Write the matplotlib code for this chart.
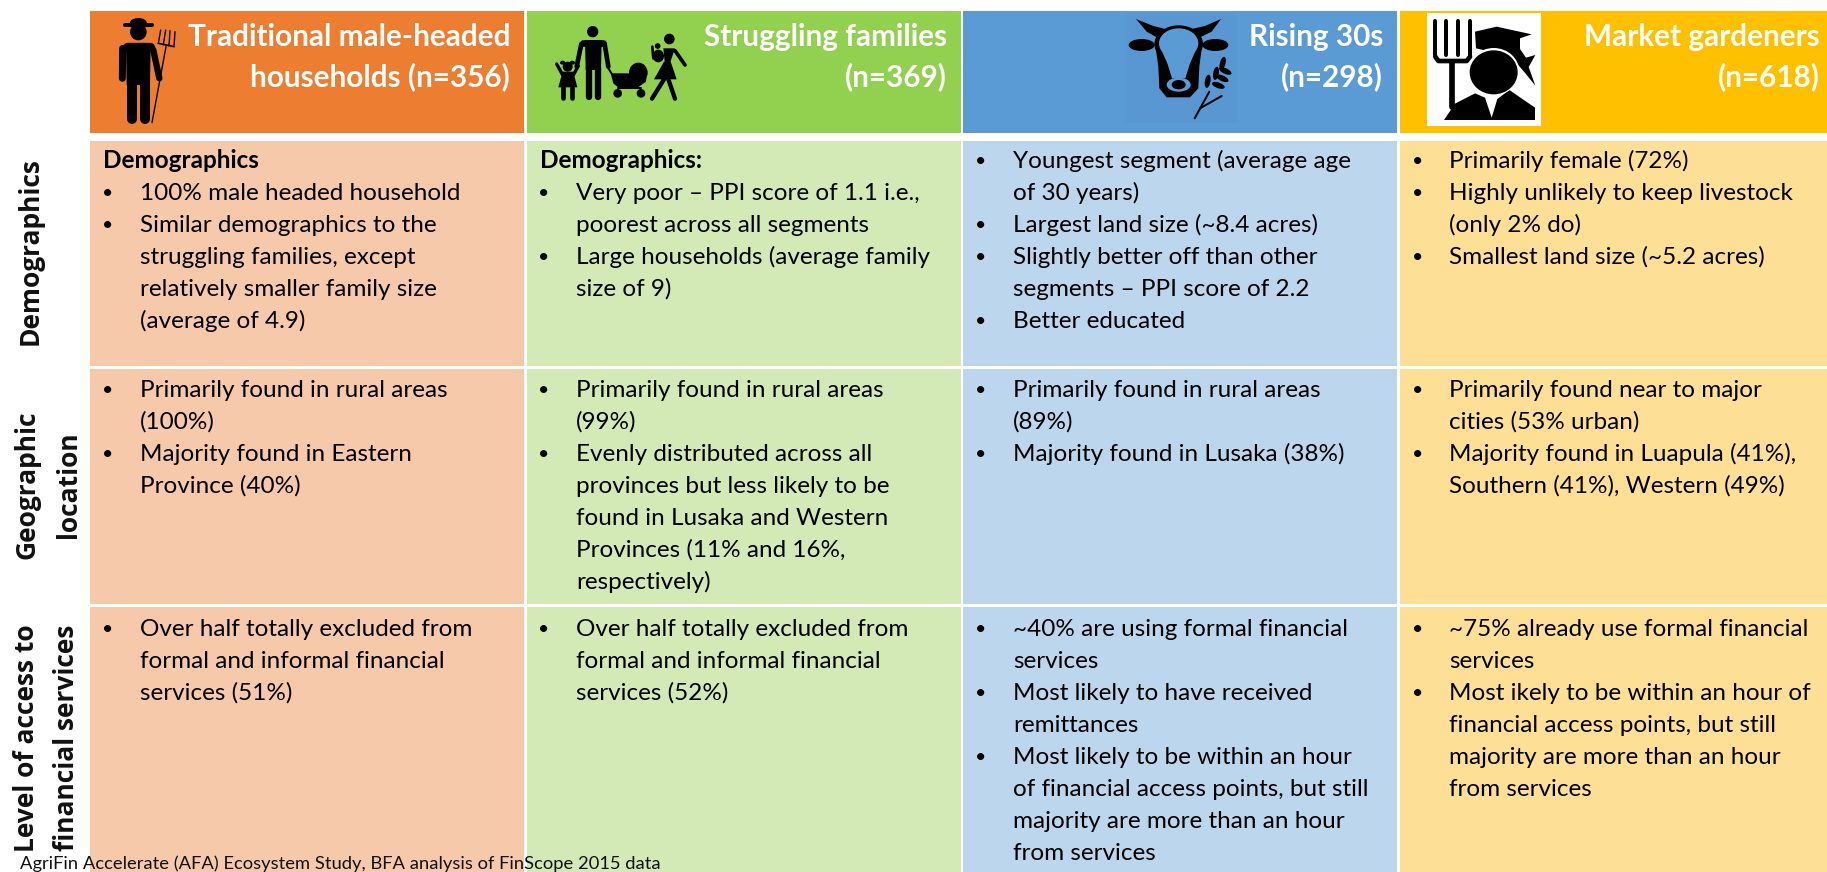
import matplotlib
matplotlib.use('Agg')
import matplotlib.pyplot as plt
from matplotlib.patches import Rectangle, Ellipse, Polygon

plt.rcParams['font.family'] = ['Lato', 'DejaVu Sans']

# segment headers
headers = [['Traditional male-headed', 'households (n=356)'],
           ['Struggling families', '(n=369)'],
           ['Rising 30s', '(n=298)'],
           ['Market gardeners', '(n=618)']]
row_labels = [['Demographics'],
              ['Geographic', 'location'],
              ['Level of access to', 'financial services']]
source = 'AgriFin Accelerate (AFA) Ecosystem Study, BFA analysis of FinScope 2015 data'

# one list per row, one list per column, "* " starts a bullet, "# " is a bold heading
demographics = [
    ['# Demographics', '* 100% male headed household', '* Similar demographics to the', 'struggling families, except',
     'relatively smaller family size', '(average of 4.9)'],
    ['# Demographics:', '* Very poor \u2013 PPI score of 1.1 i.e.,', 'poorest across all segments',
     '* Large households (average family', 'size of 9)'],
    ['* Youngest segment (average age', 'of 30 years)', '* Largest land size (~8.4 acres)',
     '* Slightly better off than other', 'segments \u2013 PPI score of 2.2', '* Better educated'],
    ['* Primarily female (72%)', '* Highly unlikely to keep livestock', '(only 2% do)',
     '* Smallest land size (~5.2 acres)'],
]
location = [
    ['* Primarily found in rural areas', '(100%)', '* Majority found in Eastern', 'Province (40%)'],
    ['* Primarily found in rural areas', '(99%)', '* Evenly distributed across all', 'provinces but less likely to be',
     'found in Lusaka and Western', 'Provinces (11% and 16%,', 'respectively)'],
    ['* Primarily found in rural areas', '(89%)', '* Majority found in Lusaka (38%)'],
    ['* Primarily found near to major', 'cities (53% urban)', '* Majority found in Luapula (41%),',
     'Southern (41%), Western (49%)'],
]
access = [
    ['* Over half totally excluded from', 'formal and informal financial', 'services (51%)'],
    ['* Over half totally excluded from', 'formal and informal financial', 'services (52%)'],
    ['* ~40% are using formal financial', 'services', '* Most likely to have received', 'remittances',
     '* Most likely to be within an hour', 'of financial access points, but still',
     'majority are more than an hour', 'from services'],
    ['* ~75% already use formal financial', 'services', '* Most ikely to be within an hour of',
     'financial access points, but still', 'majority are more than an hour', 'from services'],
]
cells = [demographics, location, access]

dark_cols = ['#ED7D31', '#92D050', '#5B9BD5', '#FFC000']
light_cols = ['#F7C9AB', '#D4EAB6', '#BCD6EE', '#FDE096']

# layout in picture pixels
col_x = [(90, 524), (527, 961), (963, 1397), (1400, 1827)]
row_y = [(141, 366), (369, 604), (607, 872)]
first_line = [161, 390, 629]
bullet_x = [108, 544, 981, 1418]
text_x = [140, 576, 1013, 1449]
head_x = [103, 540]
head_right = [510, 947, 1383, 1820]
label_y = [251, 485, 738]
label_x = [[30], [27, 68], [27, 67]]
line_h = 32
body_size = 17.5

fig = plt.figure(figsize=(18.27, 8.72), dpi=100)
ax = fig.add_axes([0, 0, 1, 1])
ax.set_xlim(0, 1827)
ax.set_ylim(872, 0)
ax.axis('off')

for j, (x0, x1) in enumerate(col_x):
    ax.add_patch(Rectangle((x0, 11), x1 - x0, 122, color=dark_cols[j], lw=0))
    for y0, y1 in row_y:
        ax.add_patch(Rectangle((x0, y0), x1 - x0, y1 - y0, color=light_cols[j], lw=0))


# icons are drawn in the 3x pixel space of a crop, with an offset
def line(ox, oy, pts, w, c='black'):
    xs = [ox + p[0] / 3 for p in pts]
    ys = [oy + p[1] / 3 for p in pts]
    ax.plot(xs, ys, color=c, lw=w / 3 * 0.72, solid_capstyle='round', solid_joinstyle='round', zorder=3)


def poly(ox, oy, pts, c='black', z=3):
    ax.add_patch(Polygon([(ox + p[0] / 3, oy + p[1] / 3) for p in pts], closed=True, color=c, lw=0, zorder=z))


def ell(ox, oy, cx, cy, w, h, c='black', angle=0, z=3):
    ax.add_patch(Ellipse((ox + cx / 3, oy + cy / 3), w / 3, h / 3, angle=angle, color=c, lw=0, zorder=z))


# farmer with pitchfork
ox, oy = 100, 10
ell(ox, oy, 115, 40, 52, 32)
line(ox, oy, [(74, 46), (156, 46)], 12)
ell(ox, oy, 115, 66, 50, 50)
line(ox, oy, [(80, 110), (150, 110)], 28)
poly(ox, oy, [(78, 100), (152, 100), (150, 225), (80, 225)])
line(ox, oy, [(68, 115), (67, 205)], 21)
line(ox, oy, [(160, 120), (178, 205)], 19)
line(ox, oy, [(97, 210), (97, 328)], 30)
line(ox, oy, [(134, 210), (134, 328)], 30)
line(ox, oy, [(156, 338), (198, 110)], 4)
line(ox, oy, [(175, 100), (222, 110)], 5)
for a, b in [((175, 100), (182, 60)), ((190, 105), (197, 60)), ((207, 108), (210, 62)), ((222, 110), (225, 65))]:
    line(ox, oy, [a, b], 4)

# family with pram
ox, oy = 540, 20
ell(ox, oy, 158, 35, 34, 34)
line(ox, oy, [(128, 68), (190, 68)], 20)
poly(ox, oy, [(135, 60), (185, 60), (183, 150), (137, 150)])
line(ox, oy, [(124, 72), (110, 140)], 14)
line(ox, oy, [(194, 72), (205, 140)], 14)
line(ox, oy, [(147, 145), (147, 232)], 19)
line(ox, oy, [(174, 145), (174, 232)], 19)
ell(ox, oy, 83, 140, 30, 30)
ell(ox, oy, 68, 128, 16, 12)
ell(ox, oy, 97, 128, 16, 12)
line(ox, oy, [(50, 132), (68, 165)], 10)
line(ox, oy, [(115, 138), (100, 165)], 10)
poly(ox, oy, [(68, 155), (100, 155), (112, 202), (55, 202)])
line(ox, oy, [(70, 200), (70, 234)], 14)
line(ox, oy, [(97, 200), (97, 234)], 14)
poly(ox, oy, [(212, 160), (262, 160), (320, 165), (318, 185), (290, 205), (240, 207), (220, 190)])
ell(ox, oy, 295, 158, 56, 60)
line(ox, oy, [(205, 145), (222, 172)], 6)
line(ox, oy, [(233, 205), (303, 205)], 6)
ell(ox, oy, 233, 220, 26, 26)
ell(ox, oy, 303, 220, 26, 26)
ell(ox, oy, 388, 57, 32, 32)
ell(ox, oy, 353, 78, 17, 17)
ell(ox, oy, 355, 108, 34, 38)
poly(ox, oy, [(370, 85), (405, 85), (388, 135), (375, 135)])
poly(ox, oy, [(372, 125), (392, 125), (410, 178), (342, 178)])
line(ox, oy, [(405, 92), (435, 135)], 11)
line(ox, oy, [(337, 80), (340, 115)], 8)
line(ox, oy, [(372, 178), (336, 236)], 13)
line(ox, oy, [(385, 178), (405, 236)], 13)

# cow and wheat
ox, oy = 1110, 10
poly(ox, oy, [(45, 10), (380, 10), (380, 340), (45, 340)], '#5897D1', 2)
poly(ox, oy, [(78, 27), (130, 48), (170, 58), (140, 82), (110, 65)])
poly(ox, oy, [(333, 27), (285, 48), (240, 58), (270, 82), (305, 65)])
ell(ox, oy, 95, 105, 78, 36)
ell(ox, oy, 316, 105, 78, 36)
ell(ox, oy, 206, 102, 146, 112)
poly(ox, oy, [(135, 100), (277, 100), (268, 170), (265, 235), (240, 262), (170, 262), (148, 235), (145, 170)])
ell(ox, oy, 206, 100, 118, 90, '#5B9BD5', z=4)
poly(ox, oy, [(152, 115), (260, 115), (240, 160), (226, 205), (186, 205), (172, 160)], '#5B9BD5', 4)
ell(ox, oy, 206, 224, 72, 42, '#5B9BD5', z=4)
ell(ox, oy, 206, 224, 42, 28, z=5)
line(ox, oy, [(254, 325), (298, 245)], 6)
line(ox, oy, [(270, 295), (335, 258)], 6)
for cx, cy, a in [(293, 214, 80), (318, 190, 80), (338, 160, 75), (346, 183, 155),
                  (337, 205, 155), (325, 226, 160)]:
    ell(ox, oy, cx, cy, 40, 17, angle=-a if a < 100 else 180 - a)

# market gardener, on a white tile
ox, oy = 1420, 5
poly(ox, oy, [(20, 25), (362, 25), (362, 362), (20, 362)], 'white', 2)
for fx in [46, 79, 115, 150]:
    line(ox, oy, [(fx, 48), (fx, 150)], 12)
line(ox, oy, [(46, 155), (55, 168), (140, 168), (150, 155)], 14)
line(ox, oy, [(97, 170), (97, 305)], 17)
poly(ox, oy, [(165, 80), (230, 65), (335, 88), (300, 100), (300, 132), (318, 158), (346, 150),
              (326, 186), (346, 242), (312, 200), (282, 165), (240, 135), (190, 135), (168, 130)])
ell(ox, oy, 221, 200, 154, 142, 'white', z=4)
ell(ox, oy, 221, 202, 144, 132, z=5)
poly(ox, oy, [(72, 345), (105, 296), (165, 265), (195, 278), (215, 338), (232, 282), (268, 255),
              (345, 308), (345, 345)], z=3)

# header text
for j, lines in enumerate(headers):
    for k, s in enumerate(lines):
        ax.text(head_right[j], 37 + 40 * k, s, color='white', fontsize=21.4, fontweight='bold',
                ha='right', va='center', zorder=6)

# row labels
for i, lines in enumerate(row_labels):
    for k, s in enumerate(lines):
        ax.text(label_x[i][k], label_y[i], s, color='#111111', fontsize=19, fontweight='bold',
                family=['Open Sans', 'DejaVu Sans'], rotation=90, ha='center', va='center', zorder=6)

# cell text
for i, row in enumerate(cells):
    for j, cell in enumerate(row):
        for k, s in enumerate(cell):
            y = first_line[i] + line_h * k
            if s.startswith('# '):
                ax.text(head_x[j], y, s[2:], fontsize=body_size, fontweight='bold', va='center', color='black')
            elif s.startswith('* '):
                ax.text(bullet_x[j], y, '\u2022', fontsize=14, va='center', ha='center', color='black')
                ax.text(text_x[j], y, s[2:], fontsize=body_size, va='center', color='black')
            else:
                ax.text(text_x[j], y, s, fontsize=body_size, va='center', color='black')

ax.text(20, 864, source, fontsize=13.2, va='center', color='#111111', zorder=6)

fig.savefig('out.png', dpi=100)
